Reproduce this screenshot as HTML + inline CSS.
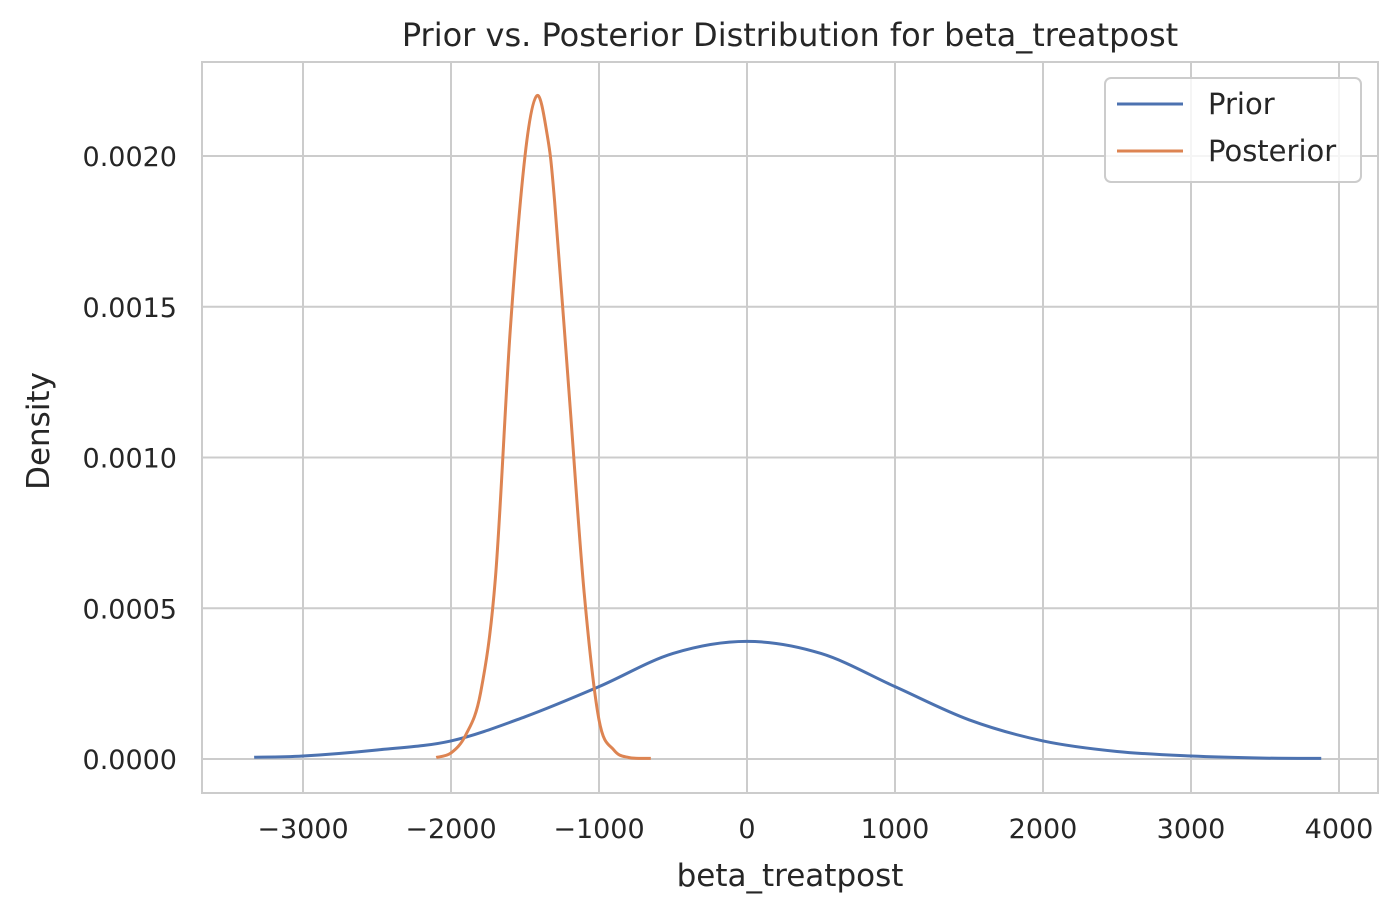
<!DOCTYPE html>
<html><head><meta charset="utf-8"><style>
body{margin:0;background:#fff;}
svg{display:block;font-family:"DejaVu Sans","Liberation Sans",sans-serif;}
</style></head><body>
<svg id="chart" width="1400" height="914">
<rect x="0" y="0" width="1400" height="914" fill="#fff"/>
<g id="grid"></g>
<rect x="202" y="62" width="1176" height="731" fill="none" stroke="#cccccc" stroke-width="2"/>
<g id="series"></g>
<g id="ticks"></g>
<text x="790" y="46" text-anchor="middle" font-size="32" fill="#262626">Prior vs. Posterior Distribution for beta_treatpost</text>
<text x="790" y="886" text-anchor="middle" font-size="31" fill="#262626">beta_treatpost</text>
<text transform="translate(49,431) rotate(-90)" text-anchor="middle" font-size="31" fill="#262626">Density</text>
<g>
<rect x="1105" y="78" width="256" height="104" rx="6" fill="#fff" fill-opacity="0.8" stroke="#cccccc" stroke-width="2"/>
<line x1="1117" y1="104" x2="1183" y2="104" stroke="#4c72b0" stroke-width="3"/>
<text x="1208" y="114" font-size="29" fill="#262626">Prior</text>
<line x1="1117" y1="151" x2="1183" y2="151" stroke="#dd8452" stroke-width="3"/>
<text x="1208" y="161" font-size="29" fill="#262626">Posterior</text>
</g>
</svg>
<script>
const xTicks=[-3000,-2000,-1000,0,1000,2000,3000,4000];
const xTickLabels=["\u22123000","\u22122000","\u22121000","0","1000","2000","3000","4000"];
const yTicks=[0,0.0005,0.001,0.0015,0.002];
const yTickLabels=["0.0000","0.0005","0.0010","0.0015","0.0020"];
const priorX=[-3330,-3000,-2500,-2000,-1500,-1000,-500,0,500,1000,1500,2000,2500,3000,3500,3880];
const priorY=[0.000006,0.00001,0.00003,0.00006,0.00014,0.00024,0.00035,0.00039,0.00035,0.00024,0.00013,0.00006,0.000025,0.00001,0.000003,0.000002];
const postX=[-2100,-2000,-1900,-1800,-1700,-1600,-1500,-1420,-1350,-1300,-1200,-1100,-1000,-900,-800,-650];
const postY=[0.000005,0.00002,0.00008,0.00022,0.0006,0.00142,0.002,0.0022,0.00207,0.00185,0.0012,0.00055,0.00013,0.00003,0.000005,0.000002];
const NS="http://www.w3.org/2000/svg";
const sx=v=>747+v*0.148;
const sy=v=>759-v*301500;
const grid=document.getElementById('grid'),ticks=document.getElementById('ticks'),series=document.getElementById('series');
xTicks.forEach((t,i)=>{
 const l=document.createElementNS(NS,'line');
 l.setAttribute('x1',sx(t));l.setAttribute('x2',sx(t));l.setAttribute('y1',62);l.setAttribute('y2',793);
 l.setAttribute('stroke','#cccccc');l.setAttribute('stroke-width','2');
 
 
 grid.appendChild(l);
 const tx=document.createElementNS(NS,'text');
 tx.setAttribute('x',sx(t));tx.setAttribute('y',838);tx.setAttribute('text-anchor','middle');
 tx.setAttribute('font-size','27');tx.setAttribute('fill','#262626');tx.textContent=xTickLabels[i];
 
 
 ticks.appendChild(tx);
});
yTicks.forEach((t,i)=>{
 const l=document.createElementNS(NS,'line');
 l.setAttribute('x1',202);l.setAttribute('x2',1378);l.setAttribute('y1',sy(t));l.setAttribute('y2',sy(t));
 l.setAttribute('stroke','#cccccc');l.setAttribute('stroke-width','2');
 
 
 grid.appendChild(l);
 const tx=document.createElementNS(NS,'text');
 tx.setAttribute('x',177);tx.setAttribute('y',sy(t)+10);tx.setAttribute('text-anchor','end');
 tx.setAttribute('font-size','27');tx.setAttribute('fill','#262626');tx.textContent=yTickLabels[i];
 
 
 ticks.appendChild(tx);
});
function pathFor(xs,ys){
 const p=xs.map((x,i)=>[sx(x),sy(ys[i])]);
 let d='M'+p[0][0]+','+p[0][1];
 for(let i=0;i<p.length-1;i++){
  const p0=p[i-1]||p[i],p1=p[i],p2=p[i+1],p3=p[i+2]||p[i+1];
  const c1=[p1[0]+(p2[0]-p0[0])/6,p1[1]+(p2[1]-p0[1])/6];
  const c2=[p2[0]-(p3[0]-p1[0])/6,p2[1]-(p3[1]-p1[1])/6];
  d+=' C'+c1[0]+','+c1[1]+' '+c2[0]+','+c2[1]+' '+p2[0]+','+p2[1];
 }
 return d;
}
const pr=document.createElementNS(NS,'path');
pr.setAttribute('d',pathFor(priorX,priorY));pr.setAttribute('fill','none');pr.setAttribute('stroke','#4c72b0');pr.setAttribute('stroke-width','3');


series.appendChild(pr);
const po=document.createElementNS(NS,'path');
po.setAttribute('d',pathFor(postX,postY));po.setAttribute('fill','none');po.setAttribute('stroke','#dd8452');po.setAttribute('stroke-width','3');


series.appendChild(po);
</script>
</body></html>
